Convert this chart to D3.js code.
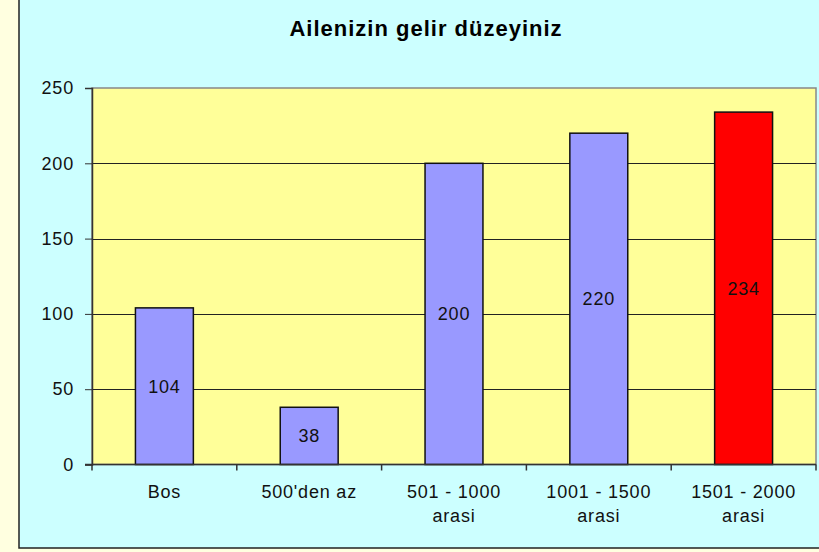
<!DOCTYPE html>
<html><head><meta charset="utf-8">
<script src="https://cdn.jsdelivr.net/npm/d3@7/dist/d3.min.js"></script>
<style>body{margin:0;background:#FFFFE0;}svg{display:block;}</style>
</head><body>
<script>
const title = "Ailenizin gelir düzeyiniz";
const categories = [["Bos"], ["500'den az"], ["501 - 1000", "arasi"], ["1001 - 1500", "arasi"], ["1501 - 2000", "arasi"]];
const values = [104, 38, 200, 220, 234];
const barColors = ["#9999FF", "#9999FF", "#9999FF", "#9999FF", "#FF0000"];
const yTicks = [0, 50, 100, 150, 200, 250];

const W = 819, H = 552;
const FONT = "Liberation Sans, Arial, sans-serif";
const svg = d3.select("body").append("svg").attr("width", W).attr("height", H);
svg.append("rect").attr("width", W).attr("height", H).attr("fill", "#FFFFE0");
svg.append("rect").attr("x", 19).attr("y", -2).attr("width", W + 5).attr("height", 550)
  .attr("fill", "#CCFFFF").attr("stroke", "#222").attr("stroke-width", 1.5);

const L = 92, R = 816, T = 88, B = 464.5;
const x = d3.scaleBand().domain(d3.range(values.length)).range([L, R]).paddingInner(0.6).paddingOuter(0.3);
const y = d3.scaleLinear().domain([0, 250]).range([B, T]);

svg.append("rect").attr("x", L).attr("y", T).attr("width", R - L).attr("height", B - T)
  .attr("fill", "#FFFF99").attr("stroke", "#888").attr("stroke-width", 1.5);

svg.append("g").selectAll("line").data(yTicks.filter(d => d > 0 && d < 250)).join("line")
  .attr("x1", L).attr("x2", R).attr("y1", d => Math.round(y(d)) + 0.5).attr("y2", d => Math.round(y(d)) + 0.5)
  .attr("stroke", "#222").attr("stroke-width", 1);

svg.append("text").attr("x", 426).attr("y", 35.5).attr("text-anchor", "middle")
  .attr("font-family", FONT).attr("font-weight", "bold")
  .attr("font-size", 22).attr("letter-spacing", 1).attr("fill", "#000").text(title);

svg.append("g").selectAll("rect").data(values).join("rect")
  .attr("x", (d, i) => x(i)).attr("width", x.bandwidth())
  .attr("y", d => y(d)).attr("height", d => B - y(d))
  .attr("fill", (d, i) => barColors[i]).attr("stroke", "#111").attr("stroke-width", 1.5);

svg.append("g").selectAll("text").data(values).join("text")
  .attr("x", (d, i) => x(i) + x.bandwidth() / 2).attr("y", d => (y(d) + B) / 2)
  .attr("dy", "0.36em").attr("text-anchor", "middle")
  .attr("font-family", FONT).attr("font-size", 18)
  .attr("letter-spacing", 0.8).attr("fill", "#111").text(d => d);

// y axis
const yAxis = svg.append("g").attr("transform", `translate(${L},0)`)
  .call(d3.axisLeft(y).tickValues(yTicks).tickSize(7).tickPadding(11));
yAxis.select(".domain").attr("stroke", "#333").attr("stroke-width", 1.5);
yAxis.selectAll(".tick line").attr("stroke", "#333");
yAxis.selectAll("text").attr("font-family", FONT)
  .attr("font-size", 18).attr("letter-spacing", 0.8).attr("fill", "#111");

// x axis baseline and boundary ticks
svg.append("line").attr("x1", L - 7).attr("x2", R).attr("y1", B).attr("y2", B).attr("stroke", "#333").attr("stroke-width", 1.5);
const bounds = d3.range(values.length + 1).map(i => L + i * x.step());
svg.append("g").selectAll("line").data(bounds).join("line")
  .attr("x1", d => d).attr("x2", d => d).attr("y1", B).attr("y2", B + 6)
  .attr("stroke", "#333").attr("stroke-width", 1.5);

const xl = svg.append("g").selectAll("text").data(categories).join("text")
  .attr("x", (d, i) => x(i) + x.bandwidth() / 2).attr("y", 497.5)
  .attr("text-anchor", "middle").attr("font-family", FONT)
  .attr("font-size", 18).attr("letter-spacing", 0.8).attr("fill", "#111");
xl.selectAll("tspan").data(d => d).join("tspan")
  .attr("x", function() { return this.parentNode.getAttribute("x"); })
  .attr("dy", (d, i) => i === 0 ? 0 : 24).text(d => d);
</script>
</body></html>
